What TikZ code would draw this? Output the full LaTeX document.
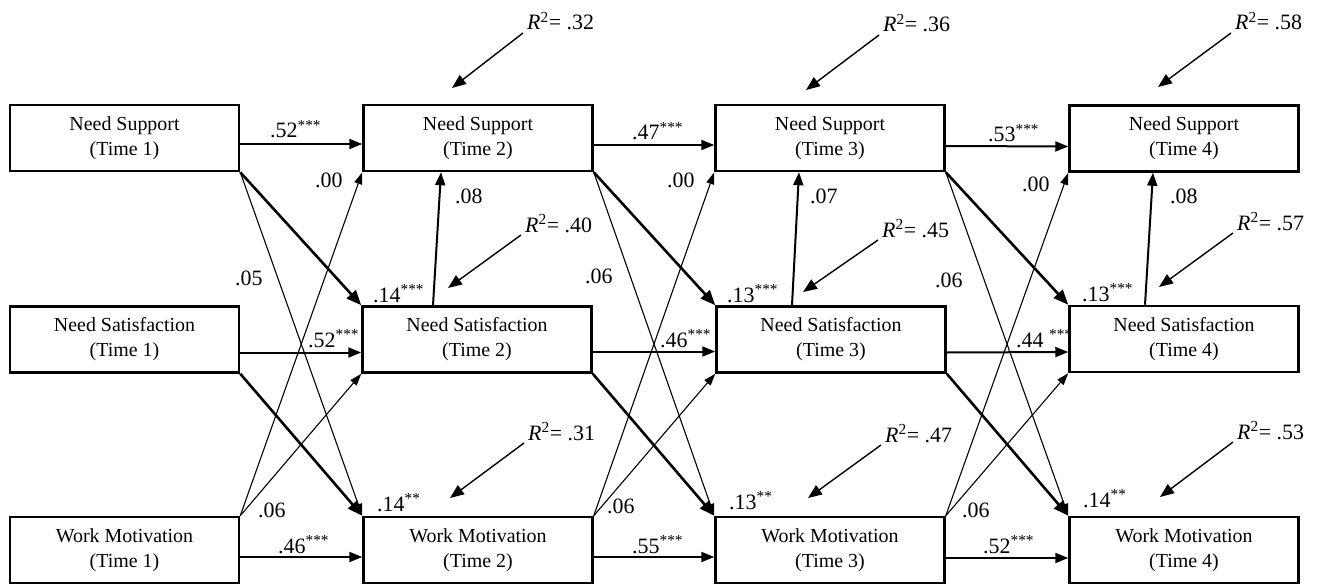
\documentclass[tikz,border=0pt]{standalone}
\usepackage{fontspec}
\setmainfont{Liberation Serif}
\usetikzlibrary{arrows.meta,calc}
\newcommand\stars[1]{\textsuperscript{#1}}
\newcommand\rsq[1]{\textit{R}\textsuperscript{2}= #1}
\begin{document}
\begin{tikzpicture}[x=1bp,y=-1bp,
  box/.style={draw, line width=2.5bp, minimum width=229bp, minimum height=66bp, inner sep=0pt, align=center,
    font=\fontsize{20}{25}\selectfont, execute at begin node={\rule{0pt}{21bp}}},
  lab/.style={font=\fontsize{22}{22}\selectfont, inner sep=0pt, anchor=base west},
  harrow/.style={line width=2bp, -{Triangle[length=13bp,width=10bp]}},
  varrow/.style={line width=2bp, -{Triangle[length=13bp,width=10bp]}},
  thinarrow/.style={line width=1.1bp, -{Triangle[length=12bp,width=8bp]}},
  thickarrow/.style={line width=2.6bp, -{Triangle[length=15bp,width=12bp]}},
  rarrow/.style={line width=1.4bp, -{Triangle[length=14bp,width=11bp]}}
]
\useasboundingbox (0,0) rectangle (1320,585);

% boxes
\node[box] (ns1)  at (124.5,138) {Need Support\\(Time 1)};
\node[box] (sat1) at (124.5,339.5) {Need Satisfaction\\(Time 1)};
\node[box] (wm1)  at (124.5,550) {Work Motivation\\(Time 1)};
\node[box] (ns2)  at (478,138) {Need Support\\(Time 2)};
\node[box] (sat2) at (477,339.5) {Need Satisfaction\\(Time 2)};
\node[box] (wm2)  at (478,550) {Work Motivation\\(Time 2)};
\node[box] (ns3)  at (830,138) {Need Support\\(Time 3)};
\node[box] (sat3) at (831,339.5) {Need Satisfaction\\(Time 3)};
\node[box] (wm3)  at (830,550) {Work Motivation\\(Time 3)};
\node[box] (ns4)  at (1184,138.5) {Need Support\\(Time 4)};
\node[box] (sat4) at (1184,339) {Need Satisfaction\\(Time 4)};
\node[box] (wm4)  at (1184,550) {Work Motivation\\(Time 4)};

% horizontal (stability) paths
\draw[harrow] ([yshift=-6bp]ns1.east) -- ([yshift=-6bp]ns2.west);
\draw[harrow] ([yshift=-13bp]sat1.east) -- ([yshift=-13bp]sat2.west);
\draw[harrow] ([yshift=-7bp]wm1.east) -- ([yshift=-7bp]wm2.west);
\draw[harrow] ([yshift=-7bp]ns2.east) -- ([yshift=-7bp]ns3.west);
\draw[harrow] ([yshift=-12bp]sat2.east) -- ([yshift=-12bp]sat3.west);
\draw[harrow] ([yshift=-7bp]wm2.east) -- ([yshift=-7bp]wm3.west);
\draw[harrow] ([yshift=-8bp]ns3.east) -- ([yshift=-8bp]ns4.west);
\draw[harrow] ([yshift=-13bp]sat3.east) -- ([yshift=-13bp]sat4.west);
\draw[harrow] ([yshift=-8bp]wm3.east) -- ([yshift=-8bp]wm4.west);

% cross-lagged paths, wave 1 -> 2
\draw[thinarrow] (ns1.south east) -- (wm2.north west);
\draw[thinarrow] (wm1.north east) -- (ns2.south west);
\draw[thinarrow] (wm1.north east) -- (sat2.south west);
\draw[thickarrow] (ns1.south east) -- (sat2.north west);
\draw[thickarrow] (sat1.south east) -- (wm2.north west);
\draw[varrow] ([xshift=-44bp]sat2.north) -- ([xshift=-37bp]ns2.south);

% wave 2 -> 3
\draw[thinarrow] (ns2.south east) -- (wm3.north west);
\draw[thinarrow] (wm2.north east) -- (ns3.south west);
\draw[thinarrow] (wm2.north east) -- (sat3.south west);
\draw[thickarrow] (ns2.south east) -- (sat3.north west);
\draw[thickarrow] (sat2.south east) -- (wm3.north west);
\draw[varrow] ([xshift=-39bp]sat3.north) -- ([xshift=-31bp]ns3.south);

% wave 3 -> 4
\draw[thinarrow] (ns3.south east) -- (wm4.north west);
\draw[thinarrow] (wm3.north east) -- (ns4.south west);
\draw[thinarrow] (wm3.north east) -- (sat4.south west);
\draw[thickarrow] (ns3.south east) -- (sat4.north west);
\draw[thickarrow] (sat3.south east) -- (wm4.north west);
\draw[varrow] ([xshift=-39bp]sat4.north) -- ([xshift=-31bp]ns4.south);

% path labels
\node[lab] (l1) at (270,138) {.52\stars{***}};
\node[lab] (l2) at (308,347) {.52\stars{***}};
\node[lab] (l3) at (278,553) {.46\stars{***}};
\node[lab] (l4) at (632,140) {.47\stars{***}};
\node[lab] (l5) at (660,347) {.46\stars{***}};
\node[lab] (l6) at (632,553) {.55\stars{***}};
\node[lab] (l7) at (988,142) {.53\stars{***}};
\node[lab] (l8) at (1016,347) {.44 \stars{***}};
\node[lab] (l9) at (983,553) {.52\stars{***}};

\node[lab] (d1) at (315,188) {.00};
\node[lab] (d2) at (235,285) {.05};
\node[lab] (d3) at (258,517) {.06};
\node[lab] (d4) at (455,203) {.08};
\node[lab] (d5) at (373,302) {.14\stars{***}};
\node[lab] (d6) at (377,511) {.14\stars{**}};

\node[lab] (e1) at (667,188) {.00};
\node[lab] (e2) at (585,283) {.06};
\node[lab] (e3) at (607,513) {.06};
\node[lab] (e4) at (810,203) {.07};
\node[lab] (e5) at (727,302) {.13\stars{***}};
\node[lab] (e6) at (729,509) {.13\stars{**}};

\node[lab] (f1) at (1022,192) {.00};
\node[lab] (f2) at (935,287) {.06};
\node[lab] (f3) at (962,517) {.06};
\node[lab] (f4) at (1170,203) {.08};
\node[lab] (f5) at (1082,301) {.13\stars{***}};
\node[lab] (f6) at (1083,507) {.14\stars{**}};

% R-squared labels
\node[lab] (r1) at (527,30) {\rsq{.32}};
\node[lab] (r2) at (525,232) {\rsq{.40}};
\node[lab] (r3) at (528,440) {\rsq{.31}};
\node[lab] (r4) at (883,32) {\rsq{.36}};
\node[lab] (r5) at (882,237) {\rsq{.45}};
\node[lab] (r6) at (885,442) {\rsq{.47}};
\node[lab] (r7) at (1235,30) {\rsq{.58}};
\node[lab] (r8) at (1237,230) {\rsq{.57}};
\node[lab] (r9) at (1237,439) {\rsq{.53}};

\coordinate (t1) at (452,88);
\coordinate (t2) at (448,288);
\coordinate (t3) at (450,498);
\coordinate (t4) at (806,90);
\coordinate (t5) at (803,292);
\coordinate (t6) at (808,498);
\coordinate (t7) at (1158,87);
\coordinate (t8) at (1159,287);
\coordinate (t9) at (1160,497);

\foreach \i in {1,...,9}{
  \draw[rarrow] ($(r\i.base west)+(-4,3)$) -- (t\i);
}
\end{tikzpicture}
\end{document}
